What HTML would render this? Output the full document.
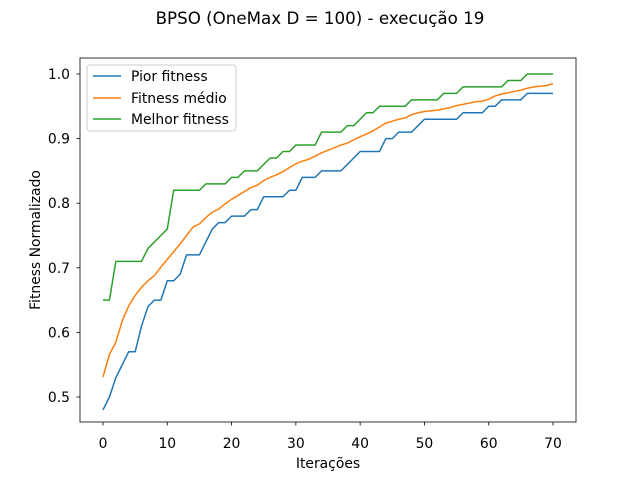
<!DOCTYPE html>
<html><head><meta charset="utf-8"><style>
body{margin:0;background:#fff;font-family:"DejaVu Sans","Liberation Sans",sans-serif}
svg text{font-family:"DejaVu Sans","Liberation Sans",sans-serif}
</style></head><body>
<svg id="chart" width="640" height="480" xmlns="http://www.w3.org/2000/svg">
<rect width="640" height="480" fill="#fff"/>
<text x="320" y="24" font-size="16.7" text-anchor="middle">BPSO (OneMax D = 100) - execução 19</text>
<g id="plot"></g>
<rect x="80" y="58" width="496" height="364" fill="none" stroke="#000" stroke-width="0.8"/>
<text x="328" y="468" font-size="13.9" text-anchor="middle">Iterações</text>
<text transform="translate(40,240) rotate(-90)" font-size="13.9" text-anchor="middle">Fitness Normalizado</text>
<g>
<rect x="87" y="65" width="149" height="66" rx="3" fill="#fff" fill-opacity="0.8" stroke="#ccc"/>
<line x1="93" y1="76" x2="121" y2="76" stroke="#1f77b4" stroke-width="1.5"/>
<text x="131" y="81" font-size="13.9">Pior fitness</text>
<line x1="93" y1="98" x2="121" y2="98" stroke="#ff7f0e" stroke-width="1.5"/>
<text x="131" y="103" font-size="13.9">Fitness médio</text>
<line x1="93" y1="119" x2="121" y2="119" stroke="#2ca02c" stroke-width="1.5"/>
<text x="131" y="124" font-size="13.9">Melhor fitness</text>
</g>
</svg>
<script>
const pior=[0.48,0.50,0.53,0.55,0.57,0.57,0.61,0.64,0.65,0.65,0.68,0.68,0.69,0.72,0.72,0.72,0.74,0.76,0.77,0.77,0.78,0.78,0.78,0.79,0.79,0.81,0.81,0.81,0.81,0.82,0.82,0.84,0.84,0.84,0.85,0.85,0.85,0.85,0.86,0.87,0.88,0.88,0.88,0.88,0.90,0.90,0.91,0.91,0.91,0.92,0.93,0.93,0.93,0.93,0.93,0.93,0.94,0.94,0.94,0.94,0.95,0.95,0.96,0.96,0.96,0.96,0.97,0.97,0.97,0.97,0.97];
const medio=[0.531,0.566,0.585,0.618,0.641,0.657,0.670,0.680,0.688,0.701,0.713,0.725,0.737,0.750,0.763,0.768,0.778,0.786,0.791,0.799,0.806,0.812,0.818,0.824,0.828,0.835,0.840,0.844,0.849,0.855,0.861,0.865,0.868,0.873,0.878,0.882,0.886,0.890,0.893,0.898,0.903,0.907,0.912,0.918,0.924,0.927,0.930,0.932,0.937,0.940,0.942,0.943,0.944,0.946,0.948,0.951,0.953,0.955,0.957,0.958,0.961,0.966,0.969,0.971,0.973,0.975,0.978,0.980,0.981,0.982,0.985];
const melhor=[0.65,0.65,0.71,0.71,0.71,0.71,0.71,0.73,0.74,0.75,0.76,0.82,0.82,0.82,0.82,0.82,0.83,0.83,0.83,0.83,0.84,0.84,0.85,0.85,0.85,0.86,0.87,0.87,0.88,0.88,0.89,0.89,0.89,0.89,0.91,0.91,0.91,0.91,0.92,0.92,0.93,0.94,0.94,0.95,0.95,0.95,0.95,0.95,0.96,0.96,0.96,0.96,0.96,0.97,0.97,0.97,0.98,0.98,0.98,0.98,0.98,0.98,0.98,0.99,0.99,0.99,1.00,1.00,1.00,1.00,1.00];
const xTicks=[0,10,20,30,40,50,60,70];
const yTicks=[0.5,0.6,0.7,0.8,0.9,1.0];
const NS="http://www.w3.org/2000/svg";
const xs=v=>103+v*(450/70);
const ys=v=>397-(v-0.5)*646;
const g=document.getElementById('plot');
function mk(t,a){const e=document.createElementNS(NS,t);for(const k in a)e.setAttribute(k,a[k]);g.appendChild(e);return e;}
xTicks.forEach(t=>{
 const l=mk('line',{x1:xs(t),x2:xs(t),y1:422,y2:425.5,stroke:'#000','stroke-width':0.8});
 
 
 const tx=mk('text',{x:xs(t),y:448,'font-size':13.9,'text-anchor':'middle'});tx.textContent=t;
 
 
});
yTicks.forEach(t=>{
 const l=mk('line',{x1:76.5,x2:80,y1:ys(t),y2:ys(t),stroke:'#000','stroke-width':0.8});
 
 
 const tx=mk('text',{x:70,y:ys(t)+5,'font-size':13.9,'text-anchor':'end'});tx.textContent=t.toFixed(1);
 
 
});
[[pior,'#1f77b4','line-pior'],[medio,'#ff7f0e','line-medio'],[melhor,'#2ca02c','line-melhor']].forEach(([d,c,n])=>{
 const p=mk('polyline',{points:d.map((v,i)=>xs(i)+','+ys(v)).join(' '),fill:'none',stroke:c,'stroke-width':1.5,'stroke-linejoin':'round'});
 
 
});
</script>
</body></html>
